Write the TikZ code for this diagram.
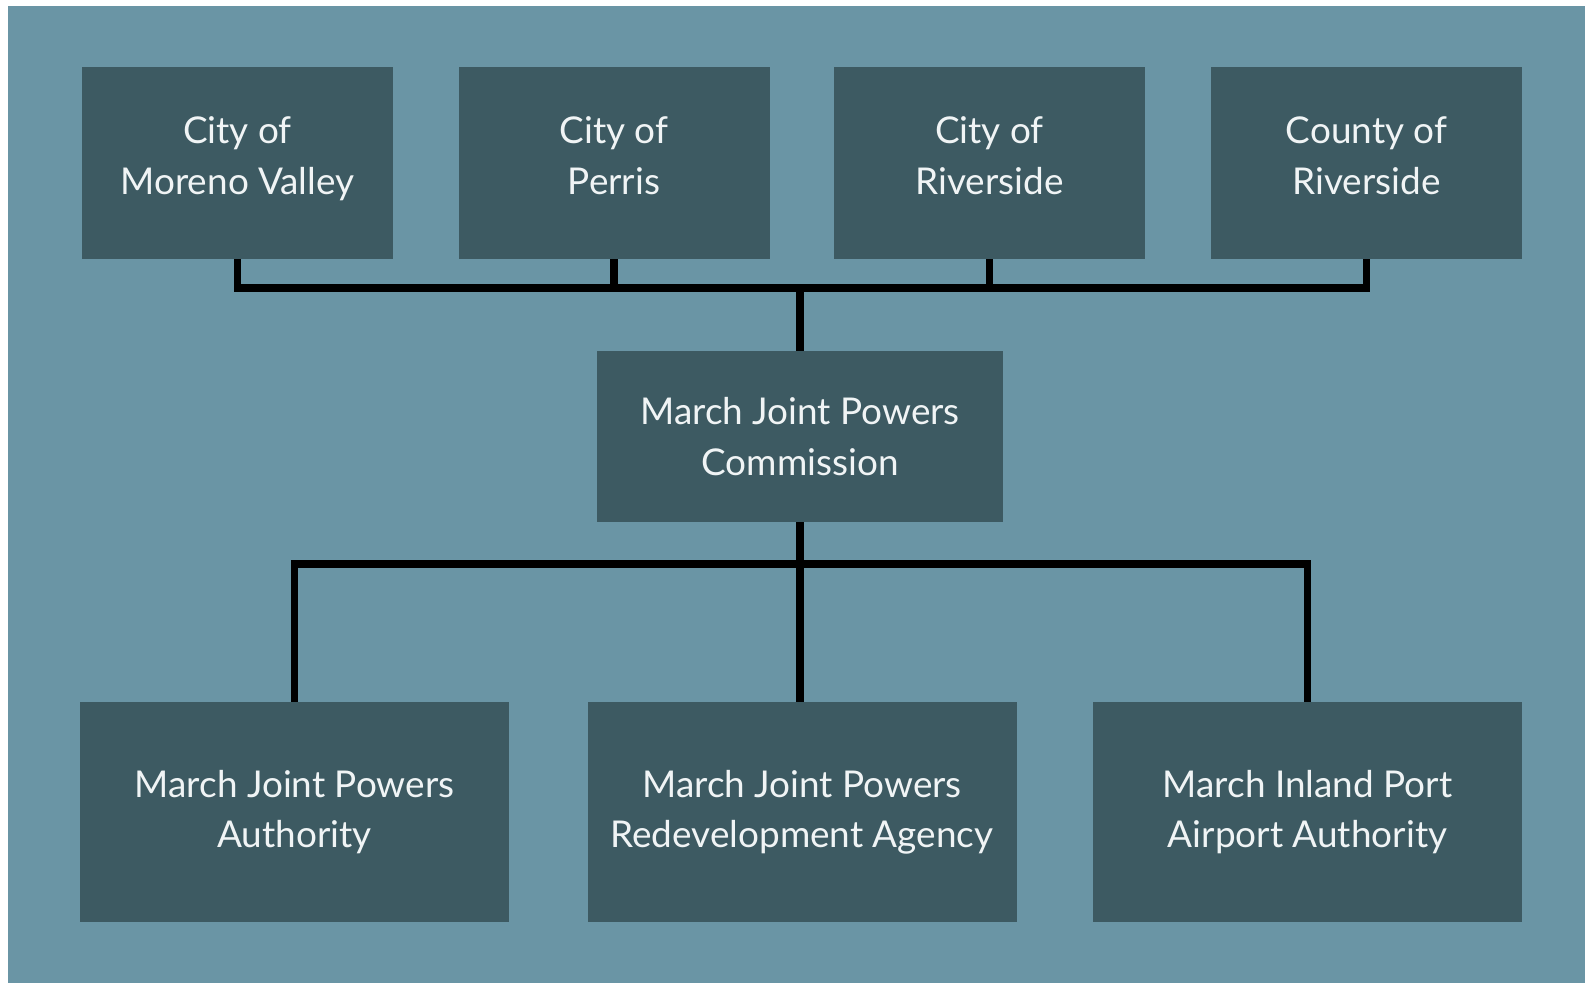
\documentclass[tikz,border=0pt]{standalone}
\usepackage{fontspec}
\setmainfont{Lato}
\usetikzlibrary{positioning}
\definecolor{panelblue}{HTML}{6A95A5}
\definecolor{boxslate}{HTML}{3D5A62}
\definecolor{boxtext}{HTML}{F0F4F5}

\begin{document}
\begin{tikzpicture}[line/.style={draw=black, line width=4.5pt}]
% Define styles for the organisation boxes
\tikzstyle{member} = [fill=boxslate, text=boxtext, rectangle, align=center, minimum width=6.22cm, minimum height=3.84cm, font=\fontsize{21}{28.7}\selectfont]
\tikzstyle{hub} = [member, minimum width=8.12cm, minimum height=3.42cm]
\tikzstyle{agency} = [member, minimum width=8.58cm, minimum height=4.4cm]

% Page and panel
\useasboundingbox (0,0) rectangle (31.7,-19.66);
\fill[panelblue] (0.16,-0.12) rectangle (31.7,-19.66);

% Nodes placement
\node [member] (moreno) at (4.75,-3.26) {City of\\Moreno Valley\strut};
\node [member, right of=moreno, node distance=7.53cm] (perris) {City of\\Perris\strut};
\node [member, right of=perris, node distance=7.51cm] (riverside) {City of\\Riverside\strut};
\node [member, right of=riverside, node distance=7.54cm] (county) {County of\\Riverside\strut};
\node [hub] (commission) at (16.0,-8.73) {March Joint Powers\\Commission};
\node [agency] (authority) at (5.89,-16.24) {March Joint Powers\\Authority};
\node [agency, right of=authority, node distance=10.15cm] (redevelop) {March Joint Powers\\Redevelopment Agency};
\node [agency, right of=redevelop, node distance=10.11cm] (airport) {March Inland Port\\Airport Authority};

\coordinate (topbus) at (16.0,-5.76);
\coordinate (botbus) at (16.0,-11.28);

% Draw edges to the members
\draw[line] (moreno.south) |- (topbus) -| (county.south);
\draw[line] (perris.south) -- (perris.south |- topbus);
\draw[line] (riverside.south) -- (riverside.south |- topbus);
\draw[line] (commission.north) -- (topbus);

% Draw edges to the agencies
\draw[line] (authority.north) |- (botbus) -| (airport.north);
\draw[line] (commission.south) -- (commission.south |- redevelop.north);

\end{tikzpicture}
\end{document}
